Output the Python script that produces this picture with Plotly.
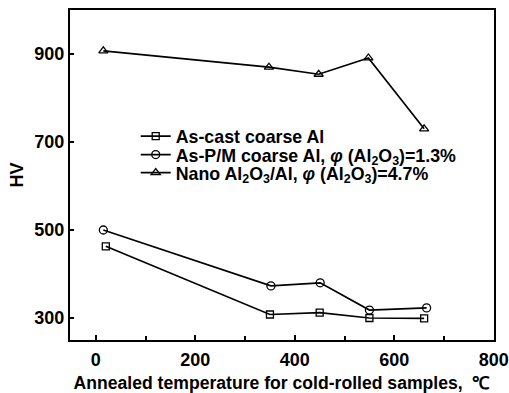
import plotly.graph_objects as go

temps_cast = [20, 350, 450, 550, 660]
hv_cast = [463, 308, 312, 300, 299]

temps_pm = [15, 352, 451, 550, 665]
hv_pm = [500, 373, 380, 318, 323]

temps_nano = [15, 348, 448, 548, 660]
hv_nano = [907, 870, 854, 891, 730]

names = [
    'As-cast coarse Al',
    'As-P/M coarse Al, <i>φ</i> (Al<sub>2</sub>O<sub>3</sub>)=1.3%',
    'Nano Al<sub>2</sub>O<sub>3</sub>/Al, <i>φ</i> (Al<sub>2</sub>O<sub>3</sub>)=4.7%',
]

FONT = 'Liberation Sans, Arial, sans-serif'
BFONT = dict(family=FONT, color='black', size=18, weight='bold')

legend_rows_y = [0.6167, 0.5606, 0.5061]
legend_ids = ['legend', 'legend2', 'legend3']

fig = go.Figure()
for xs, ys, sym, sz, nm, lg in [
    (temps_cast, hv_cast, 'square-open', 7, names[0], legend_ids[0]),
    (temps_pm, hv_pm, 'circle-open', 8, names[1], legend_ids[1]),
    (temps_nano, hv_nano, 'triangle-up-open', 8, names[2], legend_ids[2]),
]:
    fig.add_trace(go.Scatter(
        x=xs, y=ys, mode='lines+markers', name=nm, legend=lg,
        line=dict(color='black', width=1.7),
        marker=dict(symbol=sym, size=sz, color='black', line=dict(width=1.3, color='black')),
    ))

legend_common = dict(
    x=0.155, xanchor='left', yanchor='middle',
    bgcolor='rgba(0,0,0,0)', borderwidth=0,
    font=dict(size=17.8, family=FONT, color='black', weight='bold'),
)

fig.update_layout(
    width=509, height=393,
    margin=dict(l=70, r=15, t=10, b=53),
    paper_bgcolor='white', plot_bgcolor='white',
    font=dict(family=FONT, color='black', size=17),
    showlegend=True,
    legend=dict(y=legend_rows_y[0], **legend_common),
    legend2=dict(y=legend_rows_y[1], **legend_common),
    legend3=dict(y=legend_rows_y[2], **legend_common),
    xaxis=dict(
        range=[-52, 800.5], tickvals=[0, 200, 400, 600, 800],
        ticks='inside', ticklen=5, tickwidth=1.5, tickcolor='black',
        minor=dict(tickvals=[100, 300, 500, 700], ticks='inside', ticklen=4, tickwidth=1.5, tickcolor='black'),
        showline=True, linewidth=2, linecolor='black', mirror=True,
        showgrid=False, zeroline=False, automargin=False,
        tickfont=BFONT, ticklabelstandoff=2,
        title=dict(text='Annealed temperature for cold-rolled samples,  ℃',
                   font=dict(size=17.6, family=FONT, color='black', weight='bold'), standoff=10),
    ),
    yaxis=dict(
        range=[250, 1000], tickvals=[300, 500, 700, 900],
        ticks='inside', ticklen=4, tickwidth=1.5, tickcolor='black',
        showline=True, linewidth=2, linecolor='black', mirror=True,
        showgrid=False, zeroline=False, automargin=False,
        tickfont=BFONT,
        title=dict(text='HV', font=BFONT, standoff=6),
    ),
)

fig.write_html('out.html')
